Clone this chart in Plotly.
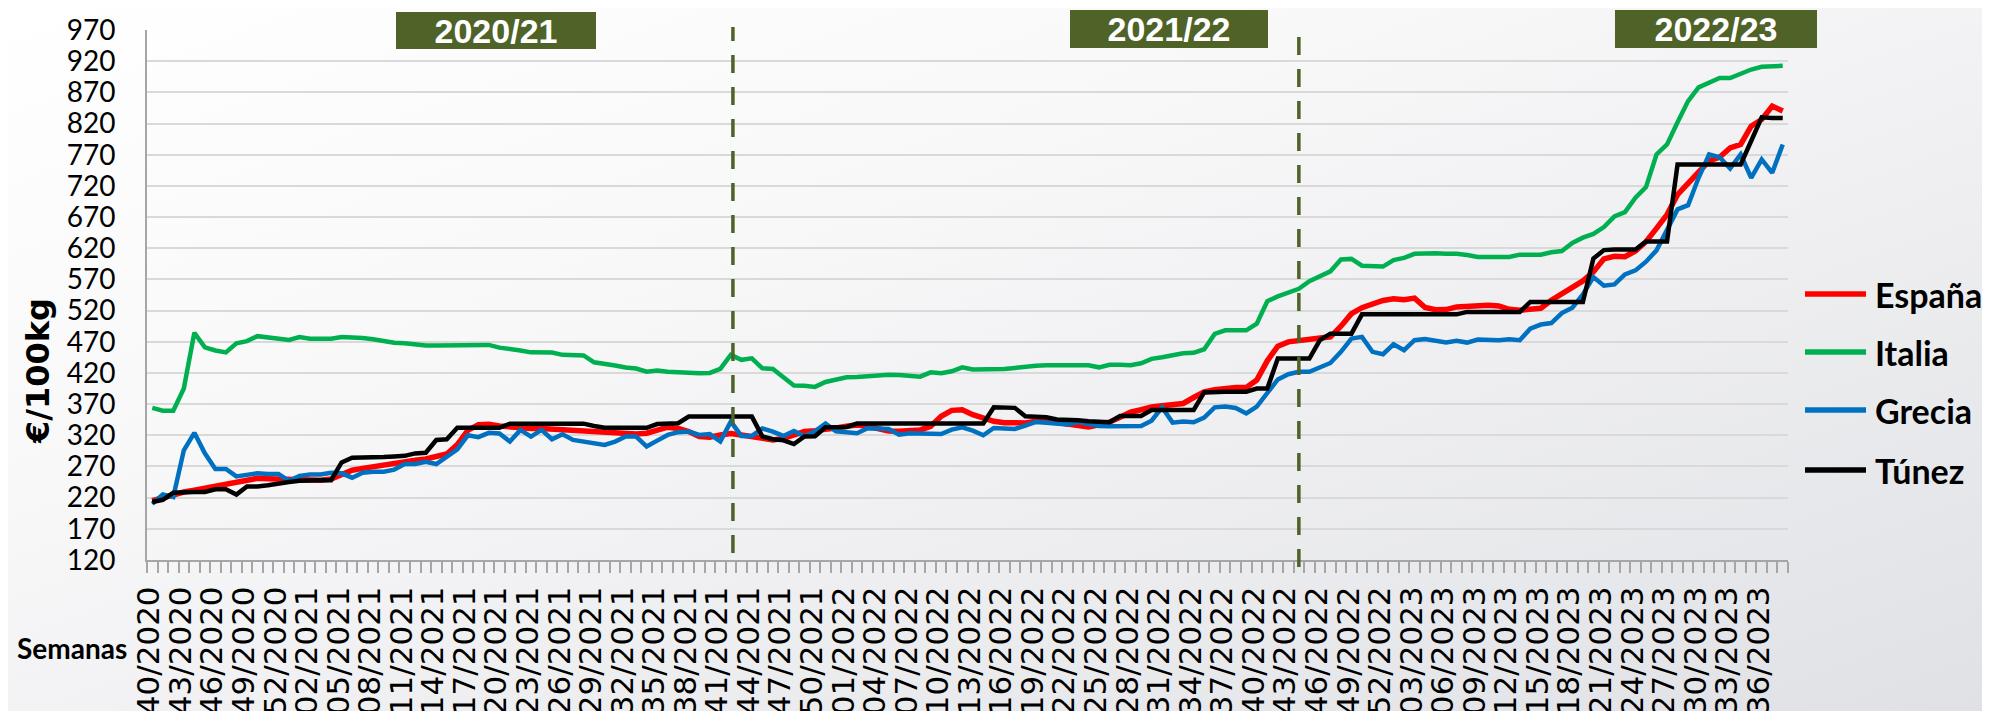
import base64
import plotly.graph_objects as go

# ---------------- data ----------------
weeks = ([f"{w:02d}/2020" for w in range(40, 54)] + [f"{w:02d}/2021" for w in range(1, 53)]
         + [f"{w:02d}/2022" for w in range(1, 53)] + [f"{w:02d}/2023" for w in range(1, 39)])

espana = [215, 220, 226, 229, 232, 235, 238, 241, 245, 249,
          251, 250.5, 250, 249.5, 248, 247, 248, 250, 256, 264,
          267, 270, 272, 275, 278, 280, 282, 285, 290, 305,
          328, 337, 337.6, 335, 333, 332, 331, 330.7, 329.7, 329,
          327.5, 326, 324.3, 323.3, 322, 322, 322, 323.3, 328.6, 333,
          331, 326, 318, 317, 320.6, 323, 320.6, 318, 315, 312.6,
          315, 320, 326, 327.5, 329, 331.8, 334.5, 336.6, 334.5, 329.7,
          327, 326.5, 328, 328.6, 334.5, 350.5, 360, 361, 353, 347.7,
          342.4, 340.3, 339.8, 339.8, 342.4, 343.5, 340.3, 338.2, 336, 333.4,
          337, 341, 349, 357, 361, 365.5, 367.5, 369.6, 371, 380.6,
          389.7, 393, 395.6, 396.8, 396.8, 408.5, 439.4, 462.9, 469.8, 472,
          473.5, 475, 477.9, 495, 515, 524.6, 531, 536.3, 539, 537.4,
          540, 525, 521.5, 521.6, 525.9, 527.5, 528.6, 528.6, 527.5, 522,
          520.6, 521.6, 523.8, 536.6, 546.2, 558, 567.6, 582, 603, 607,
          606.4, 615.5, 630.5, 651.8, 674, 706, 723.4, 743.7, 760, 766,
          781, 786.4, 815.8, 826.5, 848, 840]

italia = [364, 359.5, 359.5, 395, 484.5, 461, 456, 453, 467.5, 471,
          479, 476.5, 475.5, 473, 477.5, 475, 475, 475, 477.5, 477.5,
          476, 474, 471, 468.5, 467.5, 465, 464, 464, 464, 464,
          465, 465, 465, 460.6, 459, 456, 453, 453, 452.6, 449,
          449, 448, 437, 435, 432, 428.6, 427, 422, 424, 422,
          421, 419.5, 419.5, 420, 426.4, 449, 441, 443.5, 427.5, 426.4,
          413, 400, 399.5, 397.6, 405.5, 409.3, 413, 413.5, 415, 416.7,
          417.2, 416.7, 415, 414, 421, 419.4, 422.7, 429, 425.4, 425.4,
          425.4, 426.4, 428, 430.6, 431.7, 432.2, 432.2, 432.2, 432.2, 432.2,
          429, 433, 433, 432.5, 435.6, 442.6, 445.3, 448.5, 451.6, 452.2,
          458, 482.6, 488.4, 488.4, 488.4, 499, 535, 542.7, 549.6, 555,
          567, 574.6, 583, 602, 602.9, 592, 590.6, 590.6, 601, 604.5,
          611, 612, 612, 611.3, 611.3, 609, 606, 606, 606, 606,
          609.7, 609.7, 609.7, 613.5, 615.6, 628.4, 637, 643, 654, 671,
          678, 701, 718, 770.4, 786.4, 822, 856, 878, 885, 893,
          893, 900, 906.6, 911, 912.5, 912.5]

grecia = [210, 225, 221, 296, 324, 291, 266, 266, 254, 256,
          259, 258, 258, 247, 255, 257, 257, 260, 259, 252,
          260, 261.6, 261.6, 265, 274, 274, 277.6, 274, 286, 297.5,
          320, 317, 324, 323, 310, 328.6, 318, 328.6, 313.6, 321.6,
          312.6, 310, 307, 304.6, 310, 318, 318, 302, 311.5, 320.6,
          325, 326, 320.6, 322, 310, 342, 319, 319, 331, 326,
          319, 327, 318.4, 326.5, 338.8, 326.5, 324.9, 323.3, 331.3, 330.2,
          330.2, 321, 323.3, 322.7, 321.6, 322, 329, 332.8, 327.5, 320,
          331.8, 331.3, 330.2, 335.6, 341.4, 340.3, 338.8, 337.2, 341.4, 338.8,
          335, 334.5, 335, 335, 335, 343.5, 364.8, 340.3, 342, 341,
          348.4, 364.8, 366, 363.8, 355, 366, 387.2, 409.6, 418, 421.8,
          421.8, 429.8, 436, 453.8, 475, 477.9, 453.8, 450, 466, 456.4,
          472.5, 474.5, 472, 469, 471.4, 468.7, 473.5, 473, 472.5, 474,
          472.5, 491, 497.6, 500, 516, 524.7, 546, 573.8, 560, 562,
          578, 584.5, 598.4, 616.6, 647.6, 682.3, 689, 733, 770.4, 766,
          748, 770.4, 733, 762.4, 741, 786.5]

tunez = [213, 216.6, 228, 229, 229, 229, 233.5, 233.5, 225, 238,
         238, 240, 243, 245, 247, 248, 248, 248, 276.5, 284,
         284, 284, 285, 286, 287, 291, 292, 312.5, 313.5, 332,
         332.5, 332, 332, 332, 338.7, 338.7, 338.7, 338.7, 338.7, 338.7,
         338.7, 338.7, 335, 332, 332, 332, 332, 332, 338, 338.7,
         339.3, 350, 350, 350, 350, 350, 350, 350, 318, 313.6,
         312, 306, 318, 318.4, 332.8, 333.4, 333.4, 338.8, 338.8, 338.8,
         338.8, 338.8, 338.8, 338.8, 338.8, 338.8, 338.8, 338.8, 338.8, 338.8,
         365, 365, 364, 350.6, 349, 349, 345.4, 345.4, 344, 342.5,
         341, 341, 351, 351, 351, 360.6, 360.6, 360.6, 360.6, 360.6,
         388.8, 390, 390, 390, 390, 395, 395, 443, 443, 443,
         443, 472.5, 483, 483, 483, 514, 514, 514, 514, 514,
         514, 514, 514, 514, 514, 517.9, 517.9, 517.9, 517.9, 517.9,
         517.9, 533.9, 533.9, 533.9, 533.9, 533.9, 533.9, 603.4, 617, 618,
         618, 618, 631, 631, 631, 754.4, 754.4, 754.4, 754.4, 754.4,
         754.4, 754.4, 792, 830, 829, 829]

series_names = ["España", "Italia", "Grecia", "Túnez"]
series_colors = ["#FF0000", "#00B050", "#0070C0", "#000000"]
series_widths = [5.5, 4.5, 4.5, 4.5]
seasons = ["2020/21", "2021/22", "2022/23"]
season_dividers = [55.2, 109.0]      # week position of the dashed separators
y_ticks = list(range(120, 971, 50))

# ---------------- figure ----------------
# the page body has an 8px margin, so the figure is placed at page (8, 8)
OFF = 8
W, H = 1990 - OFF, 711 - OFF
PLOT_L, PLOT_R, PLOT_T, PLOT_B = 147, 1788, 30, 560      # plot area in page pixels
ML, MT = PLOT_L - OFF, PLOT_T - OFF
MR, MB = W - (PLOT_R - OFF), H - (PLOT_B - OFF)
PW, PH = PLOT_R - PLOT_L, PLOT_B - PLOT_T

def px_to_paper_x(px):
    return (px - PLOT_L) / PW

def px_to_paper_y(py):
    return (PLOT_B - py) / PH

x = list(range(len(weeks)))
fig = go.Figure()
for name, col, lw, ys in zip(series_names, series_colors, series_widths, [espana, italia, grecia, tunez]):
    fig.add_trace(go.Scatter(x=x, y=ys, name=name, mode="lines", customdata=weeks,
                             line=dict(color=col, width=lw), showlegend=False,
                             hovertemplate="%{customdata}: %{y}<extra>" + name + "</extra>"))

# background gradient
svg = ('<svg xmlns="http://www.w3.org/2000/svg" width="1990" height="711" preserveAspectRatio="none">'
       '<defs><linearGradient id="g" x1="0" y1="0" x2="1" y2="1">'
       '<stop offset="0" stop-color="#ffffff"/><stop offset="0.35" stop-color="#f8f8f9"/>'
       '<stop offset="1" stop-color="#e0e1e5"/></linearGradient></defs>'
       '<rect width="1990" height="711" fill="url(#g)"/></svg>')
src = "data:image/svg+xml;base64," + base64.b64encode(svg.encode()).decode()
fig.add_layout_image(source=src, xref="paper", yref="paper", x=-ML / PW, y=1 + MT / PH,
                     sizex=W / PW, sizey=H / PH, xanchor="left", yanchor="top",
                     sizing="stretch", layer="below")

# season dividers
for xv, (top, bot) in zip(season_dividers, [(27, 553), (33, 567)]):
    fig.add_shape(type="line", xref="x", yref="paper", x0=xv, x1=xv,
                  y0=px_to_paper_y(bot), y1=px_to_paper_y(top),
                  line=dict(color="#4F6228", width=3.5, dash="18px,14px"))

# season boxes
for label, (cx, cy, bw, bh) in zip(seasons, [(496, 30, 200, 37), (1169, 28.5, 198, 38), (1716, 28.5, 202, 38)]):
    fig.add_annotation(text=label, xref="paper", yref="paper", x=px_to_paper_x(cx), y=px_to_paper_y(cy),
                       xanchor="center", yanchor="middle", showarrow=False, width=bw, height=bh,
                       bgcolor="#4F6228", borderpad=0, borderwidth=0,
                       font=dict(family="Liberation Sans", size=34, color="white", weight="bold"))

# legend (line sample + label)
legend_y = [294, 352, 410, 470]
for name, col, ly in zip(series_names, series_colors, legend_y):
    fig.add_shape(type="line", xref="paper", yref="paper",
                  x0=px_to_paper_x(1805), x1=px_to_paper_x(1866),
                  y0=px_to_paper_y(ly), y1=px_to_paper_y(ly),
                  line=dict(color=col, width=5.5))
    fig.add_annotation(text=name, xref="paper", yref="paper", x=px_to_paper_x(1873), y=px_to_paper_y(ly),
                       xanchor="left", yanchor="middle", showarrow=False,
                       font=dict(family="Lato", size=34, color="black", weight="bold"))

# axis titles
fig.add_annotation(text="€/100kg", xref="paper", yref="paper", x=px_to_paper_x(38), y=px_to_paper_y(371),
                   textangle=-90, showarrow=False, xanchor="center", yanchor="middle",
                   font=dict(family="DejaVu Sans", size=32, color="black", weight="bold"))
fig.add_annotation(text="Semanas", xref="paper", yref="paper", x=px_to_paper_x(72), y=px_to_paper_y(648),
                   showarrow=False, xanchor="center", yanchor="middle",
                   font=dict(family="Lato", size=28, color="black", weight="bold"))

fig.update_layout(
    width=W, height=H, margin=dict(l=ML, r=MR, t=MT, b=MB, autoexpand=False),
    paper_bgcolor="white", plot_bgcolor="rgba(0,0,0,0)",
    showlegend=False,
    xaxis=dict(range=[-0.5, len(weeks) - 0.5], tickmode="array",
               tickvals=x[::3], ticktext=weeks[::3], tickangle=-90, ticklabelshift=-3,
               tickfont=dict(family="DejaVu Sans", size=31, color="black"),
               ticks="", ticklabelstandoff=12, showgrid=False, zeroline=False,
               showline=True, linecolor="#A6A6A6", linewidth=2, automargin=False,
               minor=dict(tickmode="linear", tick0=-0.5, dtick=1, ticks="outside",
                          ticklen=11, tickwidth=1.5, tickcolor="#A6A6A6", showgrid=False)),
    yaxis=dict(range=[120, 970], tickmode="array", tickvals=y_ticks,
               tickfont=dict(family="Lato", size=28, color="black"),
               ticks="", ticklabelstandoff=24, showgrid=True, gridcolor="#D9D9D9", gridwidth=2,
               zeroline=False, showline=True, linecolor="#A6A6A6", linewidth=2, automargin=False),
)

fig.write_html("out.html")
